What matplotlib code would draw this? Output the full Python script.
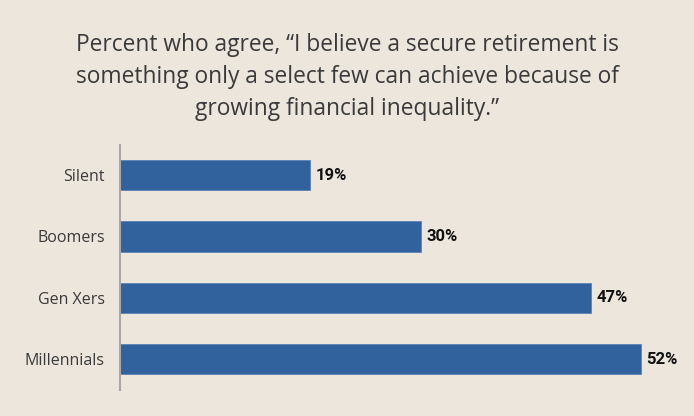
import matplotlib
matplotlib.use("Agg")
import matplotlib.pyplot as plt

categories = ["Silent", "Boomers", "Gen Xers", "Millennials"]
values = [19, 30, 47, 52]
title = ("Percent who agree, \u201cI believe a secure retirement is\n"
         "something only a select few can achieve because of\n"
         "growing financial inequality.\u201d")

bg = "#EDE6DD"
bar_color = "#31629E"
text_color = "#3A3A3A"

fig = plt.figure(figsize=(6.94, 4.16), dpi=100, facecolor=bg)
ax = fig.add_axes([120 / 694, 1 - 390 / 416, 551 / 694, (390 - 145) / 416])
ax.set_facecolor(bg)

y = list(range(len(categories)))
ax.barh(y, values, height=0.49, color=bar_color, edgecolor="#5B82B5", linewidth=0.6)

for yi, v in zip(y, values):
    ax.text(v + 0.55, yi, f"{v}%", va="center", ha="left", fontsize=12,
            fontweight="bold", color="#111111", family="Roboto")

ax.set_xlim(0, 55)
ax.set_ylim(3.5, -0.49)
ax.set_yticks(y)
ax.set_yticklabels(categories, fontsize=11.5, color=text_color, family="Open Sans")
ax.tick_params(axis="y", length=0, pad=11)
ax.set_xticks([])
for side in ["top", "right", "bottom"]:
    ax.spines[side].set_visible(False)
ax.spines["left"].set_color("#A8A8A8")
ax.spines["left"].set_linewidth(1.5)

fig.text(0.5, 1 - 77 / 416, title, ha="center", va="center", fontsize=16.4,
         color=text_color, family="Open Sans", linespacing=1.45)

fig.savefig("out.png", dpi=100, facecolor=bg)
